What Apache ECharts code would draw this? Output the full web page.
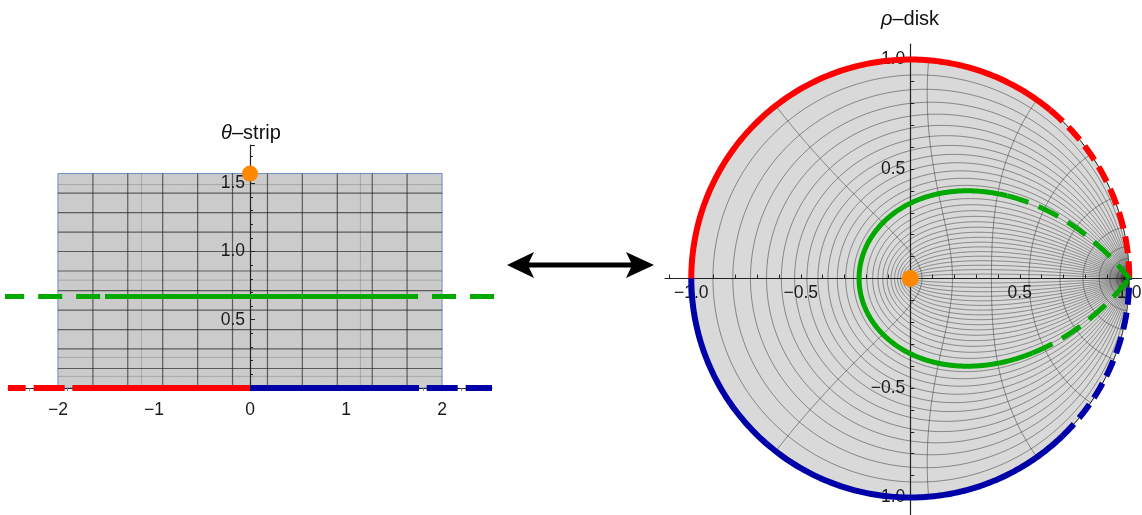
<!DOCTYPE html>
<html><head><meta charset="utf-8">
<script src="https://cdn.jsdelivr.net/npm/echarts@6/dist/echarts.min.js"></script>
<style>html,body{margin:0;padding:0;background:#fff}#c{width:1142px;height:515px}</style>
</head><body><div id="c"></div>
<script>
// ---------------- values ----------------
// theta-strip (x horizontal, theta vertical)
const stripXRange = [-2, 2];
const stripYRange = [0, 1.5708];
const stripXMesh = [-1.636, -1.273, -0.909, -0.545, -0.182, 0.182, 0.545, 0.909, 1.273, 1.636];
const stripYMesh = [0.143, 0.286, 0.428, 0.571, 0.714, 0.857, 1.0, 1.142, 1.285, 1.428];
const stripFaintXMesh = [-1.13, 1.15];
const stripFaintYMesh = [0.085, 0.224, 0.79, 1.49];
// mesh lines (strip coordinates) that are drawn inside the rho-disk
const diskXMesh = [-6.597, -6.126, -5.655, -5.184, -4.712, -4.241, -3.770, -3.299, -2.827, -2.356, -1.885, -1.414, -0.942, -0.471, 0,
                   0.471, 0.942, 1.414, 1.885, 2.356, 2.827, 3.299, 3.770, 4.241, 4.712, 5.184, 5.655, 6.126, 6.597];
const diskYMesh = [0.052, 0.105, 0.157, 0.209, 0.262, 0.314, 0.367, 0.419, 0.471, 0.524, 0.576, 0.628, 0.681, 0.733, 0.785,
                   0.838, 0.890, 0.942, 0.995, 1.047, 1.100, 1.152, 1.204, 1.257, 1.309, 1.361, 1.414, 1.466, 1.518];
// highlighted curves: theta level and x-ranges of solid / dashed pieces
const boundaryLevel = 0;
const greenLevel = 0.67;
const orangePoint = [0, 1.5708];
const stripRedSolid = [-1.85, 0], stripRedDash = [-1.93, -2.52];
const stripBlueSolid = [0, 1.76], stripBlueDash = [1.84, 2.52];
const stripGreenSolid = [-1.51, 1.5], stripGreenDashL = [-1.56, -2.6], stripGreenDashR = [1.5, 2.6];
const diskRedSolid = [-1.5, 0], diskRedDash = [-1.5, -14];
const diskBlueSolid = [0, 1.59], diskBlueDash = [1.59, 14];
const diskGreenSolid = [-1.5, 1.75], diskGreenDashL = [-1.5, -14], diskGreenDashR = [1.75, 14];
// tick labels
const stripXLabels = [-2, -1, 0, 1, 2];
const diskLabels = [-1, -0.5, 0.5, 1];
const diskTicks = [-1.1,-1,-0.9,-0.8,-0.7,-0.6,-0.5,-0.4,-0.3,-0.2,-0.1,0.1,0.2,0.3,0.4,0.5,0.6,0.7,0.8,0.9,1.0];
const stripXTicks = [-2.5,-2.4,-2.3,-2.2,-2.1,-2,-1.9,-1.8,-1.7,-1.6,-1.5,-1.4,-1.3,-1.2,-1.1,-1,-0.9,-0.8,-0.7,-0.6,-0.5,-0.4,-0.3,-0.2,-0.1,0,
                     0.1,0.2,0.3,0.4,0.5,0.6,0.7,0.8,0.9,1,1.1,1.2,1.3,1.4,1.5,1.6,1.7,1.8,1.9,2,2.1,2.2,2.3,2.4,2.5];

// ---------------- coordinate transform strip -> disk ----------------
// rho = (sinh w - i)/(sinh w + i), w = x + i*theta
function stripToDisk(x, y) {
  const sr = Math.sinh(x) * Math.cos(y), si = Math.cosh(x) * Math.sin(y);
  const ar = sr, ai = si - 1, br = sr, bi = si + 1;
  const d = br * br + bi * bi;
  return [(ar * br + ai * bi) / d, (ai * br - ar * bi) / d];
}
function hLine(y, a, b, toDisk) {
  const pts = [], n = Math.max(2, Math.ceil(Math.abs(b - a) / 0.01));
  for (let i = 0; i <= n; i++) {
    const x = a + (b - a) * i / n;
    pts.push(toDisk ? stripToDisk(x, y) : [x, y]);
  }
  return pts;
}
function vLine(x, toDisk) {
  const pts = [], n = 120;
  for (let i = 0; i <= n; i++) {
    const y = stripYRange[0] + (stripYRange[1] - stripYRange[0]) * i / n;
    pts.push(toDisk ? stripToDisk(x, y) : [x, y]);
  }
  return pts;
}
const fmt = v => (v < 0 ? '\u2212' : '') + Math.abs(v);
const fmt1 = v => (v < 0 ? '\u2212' : '') + Math.abs(v).toFixed(1);

const FONT = '"Liberation Sans", Arial, Helvetica, sans-serif';
const RED = '#ff0000', BLUE = '#0000a8', GREEN = '#00a800', ORANGE = '#ff8800';

function linesSeries(grid, data, style, z) {
  return { type: 'lines', coordinateSystem: 'cartesian2d', xAxisIndex: grid, yAxisIndex: grid,
    polyline: true, silent: true, z: z, animation: false,
    lineStyle: Object.assign({ opacity: 1, cap: 'butt' }, style),
    data: data.map(c => ({ coords: c })) };
}

const diskOutline = hLine(boundaryLevel, -14, 0, true).concat(hLine(boundaryLevel, 0, 14, true).slice(1));

const series = [
  { type: 'custom', xAxisIndex: 0, yAxisIndex: 0, z: 1, silent: true, animation: false, data: [0],
    renderItem: (p, api) => ({ type: 'polygon', shape: { points: [
        api.coord([stripXRange[0], stripYRange[0]]), api.coord([stripXRange[1], stripYRange[0]]),
        api.coord([stripXRange[1], stripYRange[1]]), api.coord([stripXRange[0], stripYRange[1]])] },
      style: { fill: '#cbcbcb', stroke: '#6f8dc6', lineWidth: 1 } }) },
  linesSeries(0, stripFaintXMesh.map(x => vLine(x, false)).concat(stripFaintYMesh.map(y => hLine(y, stripXRange[0], stripXRange[1], false))),
    { color: 'rgba(40,40,40,0.22)', width: 1 }, 1),
  linesSeries(0, stripXMesh.map(x => vLine(x, false)).concat(stripYMesh.map(y => hLine(y, stripXRange[0], stripXRange[1], false))),
    { color: 'rgba(30,30,30,0.65)', width: 1.2 }, 1),
  { type: 'custom', xAxisIndex: 1, yAxisIndex: 1, z: 1, silent: true, animation: false, data: [0],
    renderItem: (p, api) => ({ type: 'polygon', shape: { points: diskOutline.map(q => api.coord(q)) },
      style: { fill: '#d9d9d9', stroke: 'none' } }) },
  linesSeries(1, diskXMesh.map(x => vLine(x, true)).concat(diskYMesh.map(y => hLine(y, -14, 14, true))),
    { color: 'rgba(45,45,45,0.55)', width: 0.9 }, 1),
  linesSeries(1, [diskOutline], { color: '#000', width: 1 }, 4),
  linesSeries(0, [hLine(boundaryLevel, stripRedSolid[0], stripRedSolid[1], false)], { color: RED, width: 6 }, 5),
  linesSeries(0, [hLine(boundaryLevel, stripRedDash[0], stripRedDash[1], false)], { color: RED, width: 6, type: [31, 8] }, 5),
  linesSeries(0, [hLine(boundaryLevel, stripBlueSolid[0], stripBlueSolid[1], false)], { color: BLUE, width: 6 }, 5),
  linesSeries(0, [hLine(boundaryLevel, stripBlueDash[0], stripBlueDash[1], false)], { color: BLUE, width: 6, type: [31, 8] }, 5),
  linesSeries(0, [hLine(greenLevel, stripGreenSolid[0], stripGreenSolid[1], false)], { color: GREEN, width: 5 }, 5),
  linesSeries(0, [hLine(greenLevel, stripGreenDashL[0], stripGreenDashL[1], false), hLine(greenLevel, stripGreenDashR[0], stripGreenDashR[1], false)],
    { color: GREEN, width: 5, type: [24, 14] }, 5),
  linesSeries(1, [hLine(boundaryLevel, diskRedSolid[0], diskRedSolid[1], true)], { color: RED, width: 6 }, 5),
  linesSeries(1, [hLine(boundaryLevel, diskRedDash[0], diskRedDash[1], true)], { color: RED, width: 6, type: [17, 8] }, 5),
  linesSeries(1, [hLine(boundaryLevel, diskBlueSolid[0], diskBlueSolid[1], true)], { color: BLUE, width: 6 }, 5),
  linesSeries(1, [hLine(boundaryLevel, diskBlueDash[0], diskBlueDash[1], true)], { color: BLUE, width: 6, type: [17, 8] }, 5),
  linesSeries(1, [hLine(greenLevel, diskGreenSolid[0], diskGreenSolid[1], true)], { color: GREEN, width: 5 }, 5),
  linesSeries(1, [hLine(greenLevel, diskGreenDashL[0], diskGreenDashL[1], true), hLine(greenLevel, diskGreenDashR[0], diskGreenDashR[1], true)],
    { color: GREEN, width: 5, type: [22, 11] }, 5),
  { type: 'scatter', xAxisIndex: 0, yAxisIndex: 0, z: 6, silent: true, animation: false, symbolSize: 16,
    itemStyle: { color: ORANGE, opacity: 1 }, data: [orangePoint] },
  { type: 'scatter', xAxisIndex: 1, yAxisIndex: 1, z: 6, silent: true, animation: false, symbolSize: 17,
    itemStyle: { color: ORANGE, opacity: 1 }, data: [stripToDisk(orangePoint[0], orangePoint[1])] }
];

const axisLineStyle = { color: '#222', width: 1.2 };
const labelBase = { fontFamily: FONT, fontSize: 17.5, color: '#1a1a1a' };
const option = {
  animation: false,
  grid: [
    { left: 8, top: 145, width: 484, height: 243, containLabel: false, outerBoundsMode: 'none' },
    { left: 665, top: 44.2, width: 476.3, height: 470.8, containLabel: false, outerBoundsMode: 'none' }
  ],
  xAxis: [
    { type: 'value', z: 3, gridIndex: 0, min: -2.52, max: 2.52, splitLine: { show: false },
      axisLine: { onZero: false, lineStyle: axisLineStyle },
      axisTick: { customValues: stripXTicks, length: 3, lineStyle: { color: '#6a7a96' } },
      axisLabel: Object.assign({}, labelBase, { customValues: stripXLabels, formatter: fmt, margin: 13 }) },
    { type: 'value', z: 3, gridIndex: 1, min: -1.12, max: 1.055, splitLine: { show: false },
      position: 'bottom', offset: -236.5,
      axisLine: { onZero: false, lineStyle: axisLineStyle },
      axisTick: { customValues: diskTicks, inside: true, length: 4, lineStyle: { color: '#222' } },
      axisLabel: Object.assign({}, labelBase, { customValues: diskLabels, formatter: fmt1, margin: 6 }) }
  ],
  yAxis: [
    { type: 'value', z: 3, gridIndex: 0, min: 0, max: 1.78, interval: 0.5, splitLine: { show: false },
      position: 'left', offset: -242,
      axisLine: { onZero: false, lineStyle: axisLineStyle },
      axisTick: { inside: true, length: 5, lineStyle: { color: '#222' } },
      minorTick: { show: true, splitNumber: 5, length: 3, lineStyle: { color: '#222' } },
      axisLabel: Object.assign({}, labelBase, { formatter: v => (v === 0 ? '' : fmt1(v)), margin: 5, showMaxLabel: false, showMinLabel: false }) },
    { type: 'value', z: 3, gridIndex: 1, min: -1.08, max: 1.07, splitLine: { show: false },
      position: 'left', offset: -245.3,
      axisLine: { onZero: false, lineStyle: axisLineStyle },
      axisTick: { customValues: diskTicks, inside: true, length: 4, lineStyle: { color: '#222' } },
      axisLabel: Object.assign({}, labelBase, { customValues: diskLabels, formatter: fmt1, margin: 5 }) }
  ],
  graphic: [
    { type: 'text', x: 251, y: 133, z: 10, style: { text: '{i|\u03b8}\u2013strip', fontFamily: FONT, fontSize: 20, fill: '#111',
        align: 'center', verticalAlign: 'middle', rich: { i: { fontStyle: 'italic', fontFamily: FONT, fontSize: 20 } } } },
    { type: 'text', x: 910, y: 19, z: 10, style: { text: '{i|\u03c1}\u2013disk', fontFamily: FONT, fontSize: 20, fill: '#111',
        align: 'center', verticalAlign: 'middle', rich: { i: { fontStyle: 'italic', fontFamily: FONT, fontSize: 20 } } } },
    { type: 'polygon', z: 10, shape: { points: [[507, 265], [534, 252], [529, 262.5], [631, 262.5], [626, 252], [654, 265],
        [626, 278], [631, 267.5], [529, 267.5], [534, 278]] }, style: { fill: '#000' } }
  ],
  series: series
};
const chart = echarts.init(document.getElementById('c'), null, { renderer: 'canvas' });
chart.setOption(option);
</script>
</body></html>
